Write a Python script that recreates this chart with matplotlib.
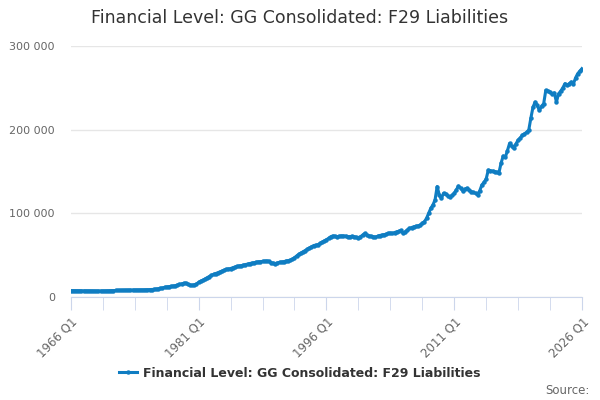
import numpy as np
import matplotlib
matplotlib.use('Agg')
import matplotlib.pyplot as plt
from matplotlib.ticker import FuncFormatter, MultipleLocator

# quarterly values (thousands), 1966 Q1 .. 2026 Q1
vals = [
    7.6, 7.6, 7.5, 7.5,   # 1966
    7.5, 7.4, 7.4, 7.4,
    7.3, 7.3, 7.3, 7.2,
    7.2, 7.2, 7.2, 7.2,
    7.3, 7.4, 7.5, 7.6,   # 1970
    7.7, 7.8, 7.9, 8.0,
    8.1, 8.1, 8.2, 8.2,
    8.3, 8.4, 8.4, 8.4,
    8.4, 8.5, 8.5, 8.6,
    8.7, 8.8, 8.9, 9.1,   # 1975
    9.4, 9.8, 10.3, 10.8,
    11.5, 12.0, 12.3, 12.6,
    13.0, 13.5, 14.2, 15.0,
    15.8, 16.3, 16.6, 15.2,
    14.2, 14.0, 14.6, 15.5,  # 1980
    17.5, 19.0, 20.0, 21.5,
    23.0, 24.5, 26.0, 27.0,
    28.0, 29.0, 30.0, 31.0,
    32.0, 33.0, 33.5, 34.0,
    35.0, 35.8, 36.5, 37.0,  # 1985
    37.5, 38.0, 38.8, 39.3,
    40.0, 40.5, 41.0, 41.5,
    42.0, 42.3, 42.5, 42.8,
    43.0, 42.5, 41.0, 40.5,
    40.0, 40.8, 41.5, 41.8,  # 1990
    42.2, 43.0, 43.5, 44.0,
    45.0, 47.0, 49.0, 51.0,
    52.5, 54.0, 55.5, 57.0,
    58.5, 60.0, 61.5, 62.0,
    62.5, 64.0, 65.5, 67.0,  # 1995
    68.5, 70.0, 72.0, 73.0,
    72.5, 72.0, 72.5, 73.0,
    73.0, 72.8, 72.0, 72.2,
    72.5, 72.0, 71.5, 71.0,
    72.0, 74.0, 76.0, 74.0,  # 2000
    73.0, 72.5, 72.0, 71.7,
    72.5, 73.5, 74.0, 74.5,
    75.0, 76.0, 76.5, 76.0,
    77.0, 78.0, 78.5, 79.5,
    76.0, 78.0, 80.0, 82.0,  # 2005
    83.0, 84.0, 84.5, 85.0,
    86.0, 88.0, 90.0, 94.0,
    100.0, 106.0, 110.0, 116.0,
    132.0, 122.0, 118.0, 124.0,
    123.0, 121.0, 120.0, 121.5,  # 2010
    124.0, 128.0, 132.6, 130.0,
    127.0, 129.0, 130.0, 127.5,
    126.0, 125.0, 124.0, 122.0,
    127.0, 134.0, 137.0, 141.0,
    151.7, 151.0, 150.5, 150.0,  # 2015
    149.0, 148.5, 160.0, 168.5,
    167.0, 175.0, 183.6, 180.0,
    177.6, 183.0, 187.6, 190.0,
    193.5, 195.0, 197.0, 199.5,
    214.0, 227.0, 233.0, 229.0,  # 2020
    223.0, 228.0, 231.0, 247.0,
    246.0, 245.0, 243.0, 244.0,
    233.0, 243.0, 246.0, 250.0,
    255.0, 253.0, 255.0, 257.0,
    255.0, 262.0, 267.0, 270.0,  # 2025
    273.0,
]
values = np.array(vals) * 1000
tick_labels = ['1966 Q1', '1981 Q1', '1996 Q1', '2011 Q1', '2026 Q1']
series_name = 'Financial Level: GG Consolidated: F29 Liabilities'

x = np.arange(len(values))
blue = '#0f7dc2'

fig = plt.figure(figsize=(6, 4), dpi=100)
ax = fig.add_axes([0.118, 0.2575, 0.852, 0.6275])

ax.plot(x, values, color=blue, lw=2.2, marker='o', ms=2.2, label=series_name)

ax.set_xlim(0, 240)
ax.set_ylim(0, 300000)
ax.yaxis.set_major_locator(MultipleLocator(100000))
ax.yaxis.set_major_formatter(FuncFormatter(lambda v, p: f'{int(v):,}'.replace(',', ' ')))
ax.grid(axis='y', color='#e6e6e6', lw=1)
ax.set_axisbelow(True)

ax.set_xticks(np.arange(0, 241, 60))
ax.set_xticklabels(tick_labels, rotation=45, ha='right', rotation_mode='anchor')
ax.set_xticks(np.arange(0, 241, 15), minor=True)
ax.tick_params(axis='x', which='both', length=9, color='#ccd6eb', labelcolor='#666666',
               labelsize=8.5, pad=4)
ax.tick_params(axis='y', length=0, labelcolor='#666666', labelsize=8, pad=11.5)

for s in ['top', 'right', 'left']:
    ax.spines[s].set_visible(False)
ax.spines['bottom'].set_color('#ccd6eb')

fig.text(0.5, 0.955, series_name, ha='center', va='center', fontsize=12.5, color='#333333')
leg = fig.legend(loc='center', bbox_to_anchor=(0.5, 0.067), frameon=False,
                 prop={'size': 9, 'weight': 'bold'}, handlelength=1.4, handletextpad=0.5)
for t in leg.get_texts():
    t.set_color('#333333')
fig.text(0.983, 0.025, 'Source:', ha='right', va='center', fontsize=8.5, color='#666666')

fig.savefig('out.png', dpi=100)
